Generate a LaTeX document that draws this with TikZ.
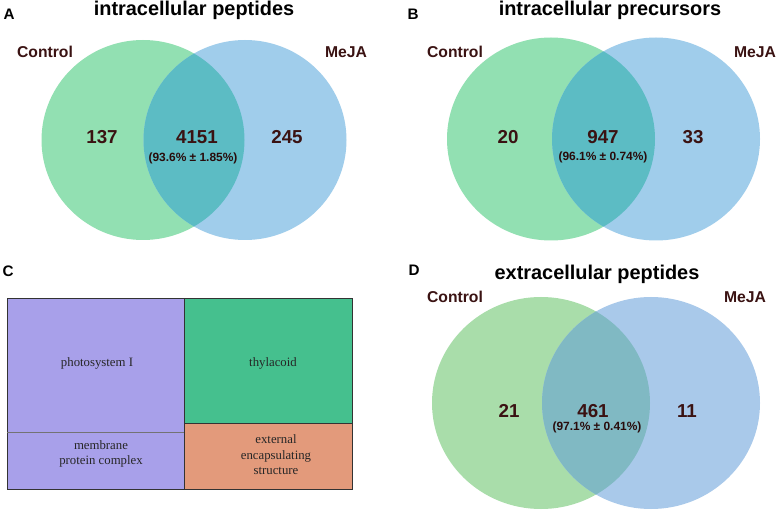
\documentclass[tikz,border=0pt]{standalone}
\usepackage{fontspec}
\setmainfont{Liberation Serif}
\setsansfont{Liberation Sans}
\usetikzlibrary{positioning}

\definecolor{ctlgreen}{HTML}{92E0B2}
\definecolor{mejablue}{HTML}{A0CDEB}
\definecolor{bothteal}{HTML}{5CBCC4}
\definecolor{ctlgreenD}{HTML}{A9DDAA}
\definecolor{mejablueD}{HTML}{A9C9EA}
\definecolor{bothtealD}{HTML}{80B9C3}
\definecolor{labred}{HTML}{3A1212}
\definecolor{psipurple}{HTML}{A8A0EA}
\definecolor{thylgreen}{HTML}{45C08E}
\definecolor{extorange}{HTML}{E39A7B}

\begin{document}
\begin{tikzpicture}[
        x=0.03cm, y=-0.03cm,
        panel/.style={anchor=base, inner sep=0pt, font=\sffamily\bfseries\fontsize{13}{15}\selectfont},
        title/.style={anchor=base, inner sep=0pt, font=\sffamily\bfseries\fontsize{17}{20}\selectfont},
        group/.style={anchor=base, inner sep=0pt, text=labred, font=\sffamily\bfseries\fontsize{13.4}{16}\selectfont},
        count/.style={anchor=base, inner sep=0pt, text=labred, font=\sffamily\bfseries\fontsize{16}{19}\selectfont},
        share/.style={anchor=base, inner sep=0pt, text=labred!70!black, font=\sffamily\bfseries\fontsize{10.2}{12}\selectfont},
        cell/.style={draw=black!80, thick},
        term/.style={align=center, inner sep=0pt, text=black!85, font=\fontsize{10.9}{13.3}\selectfont}
    ]
        \useasboundingbox[fill=white] (0,0) rectangle (778,511);

        % A: intracellular peptides
        \fill[ctlgreen] (143,140) ellipse [x radius=101.5, y radius=100];
        \fill[mejablue] (245,140) ellipse [x radius=101.5, y radius=100];
        \begin{scope}
            \clip (143,140) ellipse [x radius=101.5, y radius=100];
            \fill[bothteal] (245,140) ellipse [x radius=101.5, y radius=100];
        \end{scope}
        \node[panel] (lblA) at (9,20) {A};
        \node[title] (titleA) at (194,16) {intracellular peptides};
        \node[group] (ctlA) at (45,58) {Control};
        \node[group] (mejaA) at (346,58) {MeJA};
        \node[count] (onlyctlA) at (102,144) {137};
        \node[count] (bothA) at (197,144) {4151};
        \node[count] (onlymejaA) at (287,144) {245};
        \node[share] (shareA) at (193,162) {(93.6\% ± 1.85\%)};

        % B: intracellular precursors
        \fill[ctlgreen] (551,139) ellipse [x radius=104, y radius=101.5];
        \fill[mejablue] (656,139) ellipse [x radius=104, y radius=101.5];
        \begin{scope}
            \clip (551,139) ellipse [x radius=104, y radius=101.5];
            \fill[bothteal] (656,139) ellipse [x radius=104, y radius=101.5];
        \end{scope}
        \node[panel] (lblB) at (413,20) {B};
        \node[title] (titleB) at (610,16) {intracellular precursors};
        \node[group] (ctlB) at (455,58) {Control};
        \node[group] (mejaB) at (755,58) {MeJA};
        \node[count] (onlyctlB) at (508,144) {20};
        \node[count] (bothB) at (603,144) {947};
        \node[count] (onlymejaB) at (693,144) {33};
        \node[share] (shareB) at (603,161) {(96.1\% ± 0.74\%)};

        % C: cellular component treemap
        \node[panel] (lblC) at (8,277) {C};
        \draw[cell, fill=psipurple] (7,298) rectangle (184,489);
        \draw[draw=black!55, thin] (7,432) -- (184,432);
        \draw[cell, fill=thylgreen] (184,298) rectangle (352,423);
        \draw[cell, fill=extorange] (184,423) rectangle (352,489);
        \node[term] (photo) at (97,363) {photosystem I};
        \node[term] (thyl) at (273,363) {thylacoid};
        \node[term] (membr) at (101,454) {membrane\\protein complex};
        \node[term] (extcap) at (276,455) {external\\encapsulating\\structure};

        % D: extracellular peptides
        \fill[ctlgreenD] (541,403) ellipse [x radius=109, y radius=106];
        \fill[mejablueD] (651,403) ellipse [x radius=109, y radius=106];
        \begin{scope}
            \clip (541,403) ellipse [x radius=109, y radius=106];
            \fill[bothtealD] (651,403) ellipse [x radius=109, y radius=106];
        \end{scope}
        \node[panel] (lblD) at (414,276) {D};
        \node[title] (titleD) at (597,280) {extracellular peptides};
        \node[group] (ctlD) at (455,303) {Control};
        \node[group] (mejaD) at (745,303) {MeJA};
        \node[count] (onlyctlD) at (509,417) {21};
        \node[count] (bothD) at (593,417) {461};
        \node[count] (onlymejaD) at (687,417) {11};
        \node[share] (shareD) at (597,430) {(97.1\% ± 0.41\%)};
    \end{tikzpicture}
\end{document}
